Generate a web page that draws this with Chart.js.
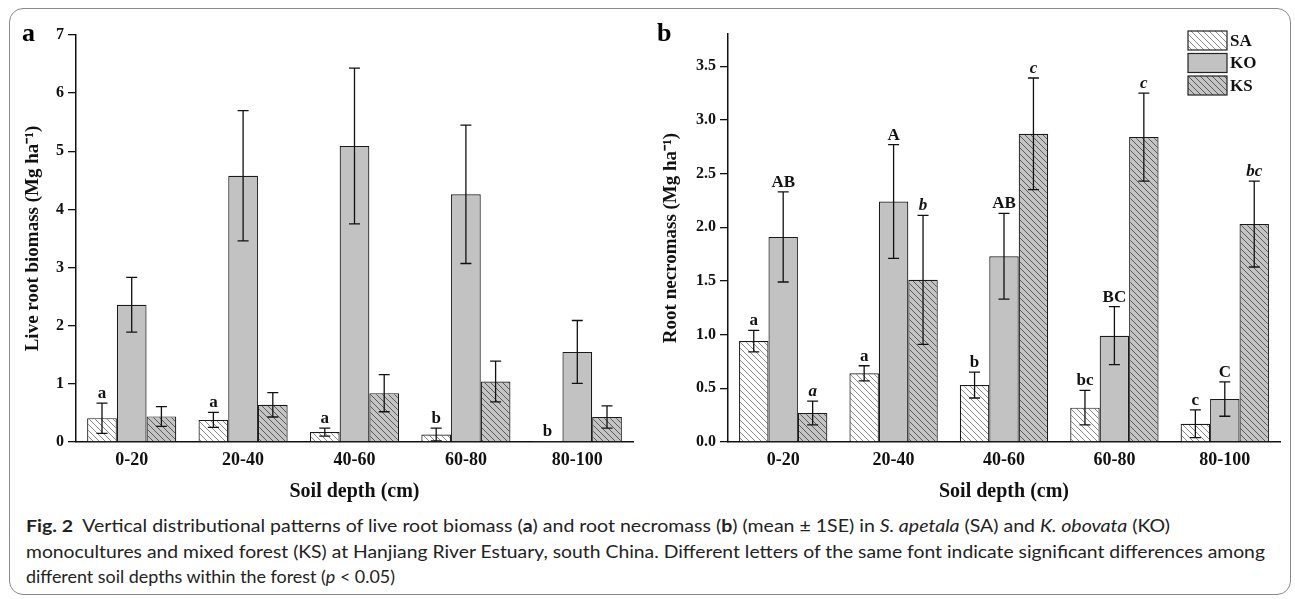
<!DOCTYPE html>
<html>
<head>
<script src="https://cdn.jsdelivr.net/npm/chart.js@4.4.0/dist/chart.umd.min.js"></script>
<style>
  body { margin:0; background:#fff; width:1295px; height:599px; overflow:hidden; position:relative; }
  #frame { position:absolute; left:9px; top:8px; width:1282px; height:587px; border:1px solid #8a8a8a; border-radius:14px; box-sizing:border-box; }
  canvas { position:absolute; top:0; }
  .plab { position:absolute; font-family:"Liberation Serif"; font-weight:bold; font-size:26px; line-height:26px; }
  #cap { position:absolute; left:26px; top:513px; font-family:Lato; font-size:17px; color:#222; white-space:nowrap; }
  #cap div { height:25.5px; line-height:25.5px; }
  #cap span { display:inline-block; transform-origin:0 50%; }
</style>
</head>
<body>
<div id="frame"></div>
<canvas id="chartA" width="650" height="505" style="left:0"></canvas>
<canvas id="chartB" width="645" height="505" style="left:650px"></canvas>
<div class="plab" style="left:22px;top:20px">a</div>
<div class="plab" style="left:657px;top:20px">b</div>
<div id="cap">
  <div><span data-w="1144"><b>Fig. 2</b>&nbsp; Vertical distributional patterns of live root biomass (<b>a</b>) and root necromass (<b>b</b>) (mean ± 1SE) in <i>S. apetala</i> (SA) and <i>K. obovata</i> (KO)</span></div>
  <div><span data-w="1239">monocultures and mixed forest (KS) at Hanjiang River Estuary, south China. Different letters of the same font indicate significant differences among</span></div>
  <div><span data-w="369">different soil depths within the forest (<i>p</i> &lt; 0.05)</span></div>
</div>
<script>
// soil depth classes
const depths = ['0-20', '20-40', '40-60', '60-80', '80-100'];
const seriesNames = ['SA', 'KO', 'KS'];

// (a) live root biomass, Mg/ha, mean and SE
const liveSA = [0.41, 0.38, 0.17, 0.13, 0.01];
const liveSAerr = [0.26, 0.13, 0.07, 0.11, 0];
const liveKO = [2.36, 4.58, 5.09, 4.26, 1.55];
const liveKOerr = [0.47, 1.12, 1.34, 1.19, 0.54];
const liveKS = [0.44, 0.64, 0.84, 1.04, 0.43];
const liveKSerr = [0.17, 0.21, 0.32, 0.35, 0.19];
const liveSAletters = ['a', 'a', 'a', 'b', 'b'];

// (b) root necromass
const necroSA = [0.94, 0.64, 0.53, 0.32, 0.17];
const necroSAerr = [0.10, 0.07, 0.12, 0.16, 0.13];
const necroKO = [1.91, 2.24, 1.73, 0.99, 0.40];
const necroKOerr = [0.42, 0.53, 0.40, 0.27, 0.16];
const necroKS = [0.27, 1.51, 2.87, 2.84, 2.03];
const necroKSerr = [0.11, 0.60, 0.52, 0.41, 0.40];
const necroSAletters = ['a', 'a', 'b', 'bc', 'c'];
const necroKOletters = ['AB', 'A', 'AB', 'BC', 'C'];
const necroKSletters = ['a', 'b', 'c', 'c', 'bc'];

const liveTicks = [0, 1, 2, 3, 4, 5, 6, 7];
const necroTicks = [0, 0.5, 1.0, 1.5, 2.0, 2.5, 3.0, 3.5];

// diagonal "\" hatch fill
function hatch(bg, fg, step) {
  const c = document.createElement('canvas');
  c.width = c.height = step;
  const x = c.getContext('2d');
  x.fillStyle = bg;
  x.fillRect(0, 0, step, step);
  x.strokeStyle = fg;
  x.lineWidth = 1;
  x.beginPath();
  x.moveTo(-1, -1); x.lineTo(step + 1, step + 1);
  x.moveTo(-1, step - 1); x.lineTo(1, step + 1);
  x.moveTo(step - 1, -1); x.lineTo(step + 1, 1);
  x.stroke();
  return x.createPattern(c, 'repeat');
}
const fillSA = hatch('#ffffff', '#8a8a8a', 6);
const fillKO = '#c2c2c2';
const fillKS = hatch('#c4c4c4', '#5a5a5a', 6);

const serif = 'Liberation Serif';

const errorBars = {
  id: 'errorBars',
  afterDatasetsDraw(chart) {
    const ctx = chart.ctx, ys = chart.scales.y;
    ctx.save();
    chart.data.datasets.forEach((ds, i) => {
      const meta = chart.getDatasetMeta(i);
      meta.data.forEach((bar, j) => {
        const v = ds.data[j], e = ds.errors[j];
        const top = ys.getPixelForValue(v + e);
        if (e > 0) {
          const bot = ys.getPixelForValue(v - e);
          ctx.strokeStyle = '#111';
          ctx.lineWidth = 1.3;
          ctx.beginPath();
          ctx.moveTo(bar.x, top); ctx.lineTo(bar.x, bot);
          ctx.moveTo(bar.x - 5.5, top); ctx.lineTo(bar.x + 5.5, top);
          ctx.moveTo(bar.x - 5.5, bot); ctx.lineTo(bar.x + 5.5, bot);
          ctx.stroke();
        }
        if (ds.letters) {
          ctx.fillStyle = '#111';
          ctx.font = (ds.italicLetters ? 'italic ' : '') + 'bold 17px "' + serif + '"';
          ctx.textAlign = 'center';
          ctx.textBaseline = 'alphabetic';
          ctx.fillText(ds.letters[j], bar.x, top - 5);
        }
      });
    });
    ctx.restore();
  }
};

const boxLegend = {
  id: 'boxLegend',
  afterDraw(chart, args, opts) {
    if (!opts.show) return;
    const ctx = chart.ctx, ca = chart.chartArea;
    ctx.save();
    chart.data.datasets.forEach((ds, i) => {
      const x = ca.right - 92, y = 31 + i * 22.5;
      ctx.fillStyle = ds.backgroundColor;
      ctx.fillRect(x, y, 39, 19);
      ctx.strokeStyle = '#222';
      ctx.lineWidth = 1.2;
      ctx.strokeRect(x, y, 39, 19);
      ctx.fillStyle = '#111';
      ctx.font = 'bold 17px "' + serif + '"';
      ctx.textAlign = 'left';
      ctx.textBaseline = 'middle';
      ctx.fillText(ds.label, x + 42, y + 10.5);
    });
    ctx.restore();
  }
};

function makeChart(id, sets, max, tickVals, yTitle, yWidth, titlePad, topPad, rightPad, decimals, legend) {
  return new Chart(document.getElementById(id), {
    type: 'bar',
    data: {
      labels: depths,
      datasets: sets.map((s, i) => ({
        label: seriesNames[i],
        data: s.data,
        errors: s.err,
        letters: s.letters,
        italicLetters: s.italic,
        backgroundColor: [fillSA, fillKO, fillKS][i],
        borderColor: '#1a1a1a',
        borderWidth: 1.2,
        categoryPercentage: 0.8,
        barPercentage: 1.0
      }))
    },
    options: {
      responsive: false,
      animation: false,
      layout: { padding: { left: 0, right: rightPad, top: topPad, bottom: 0 } },
      plugins: { legend: { display: false }, tooltip: { enabled: false }, boxLegend: { show: legend } },
      scales: {
        x: {
          grid: { display: false, drawTicks: false },
          border: { display: true, color: '#111', width: 1.5 },
          ticks: { color: '#111', padding: 8, font: { family: serif, weight: 'bold', size: 18 } },
          title: { display: true, text: 'Soil depth (cm)', color: '#111', padding: { top: 0, bottom: 1 },
                   font: { family: serif, weight: 'bold', size: 20 } },
          afterFit(s) { s.height = 63; }
        },
        y: {
          min: 0, max: max,
          afterBuildTicks(s) { s.ticks = tickVals.map(v => ({ value: v })); },
          grid: { drawOnChartArea: false, drawTicks: true, tickLength: 8, color: '#111', lineWidth: 1.3 },
          border: { display: true, color: '#111', width: 1.5 },
          ticks: { color: '#111', padding: 4, font: { family: serif, weight: 'bold', size: 16 },
                   callback: v => v.toFixed(decimals) },
          title: { display: true, text: yTitle, color: '#111', padding: { top: titlePad, bottom: 0 },
                   font: { family: serif, weight: 'bold', size: 19 } },
          afterFit(s) { s.width = yWidth; }
        }
      }
    },
    plugins: [errorBars, boxLegend]
  });
}

makeChart('chartA', [
  { data: liveSA, err: liveSAerr, letters: liveSAletters },
  { data: liveKO, err: liveKOerr },
  { data: liveKS, err: liveKSerr }
], 7, liveTicks, 'Live root biomass (Mg ha\u207B\u00B9)', 76, 21.6, 35, 17, 0, false);

makeChart('chartB', [
  { data: necroSA, err: necroSAerr, letters: necroSAletters },
  { data: necroKO, err: necroKOerr, letters: necroKOletters },
  { data: necroKS, err: necroKSerr, letters: necroKSletters, italic: true }
], 3.8, necroTicks, 'Root necromass (Mg ha\u207B\u00B9)', 78, 9.6, 34, 15, 1, true);

// stretch each caption line to the width of the printed one
document.querySelectorAll('#cap span').forEach(sp => {
  const w = sp.getBoundingClientRect().width;
  sp.style.transform = 'scaleX(' + (Number(sp.dataset.w) / w).toFixed(4) + ')';
});
</script>
</body>
</html>
